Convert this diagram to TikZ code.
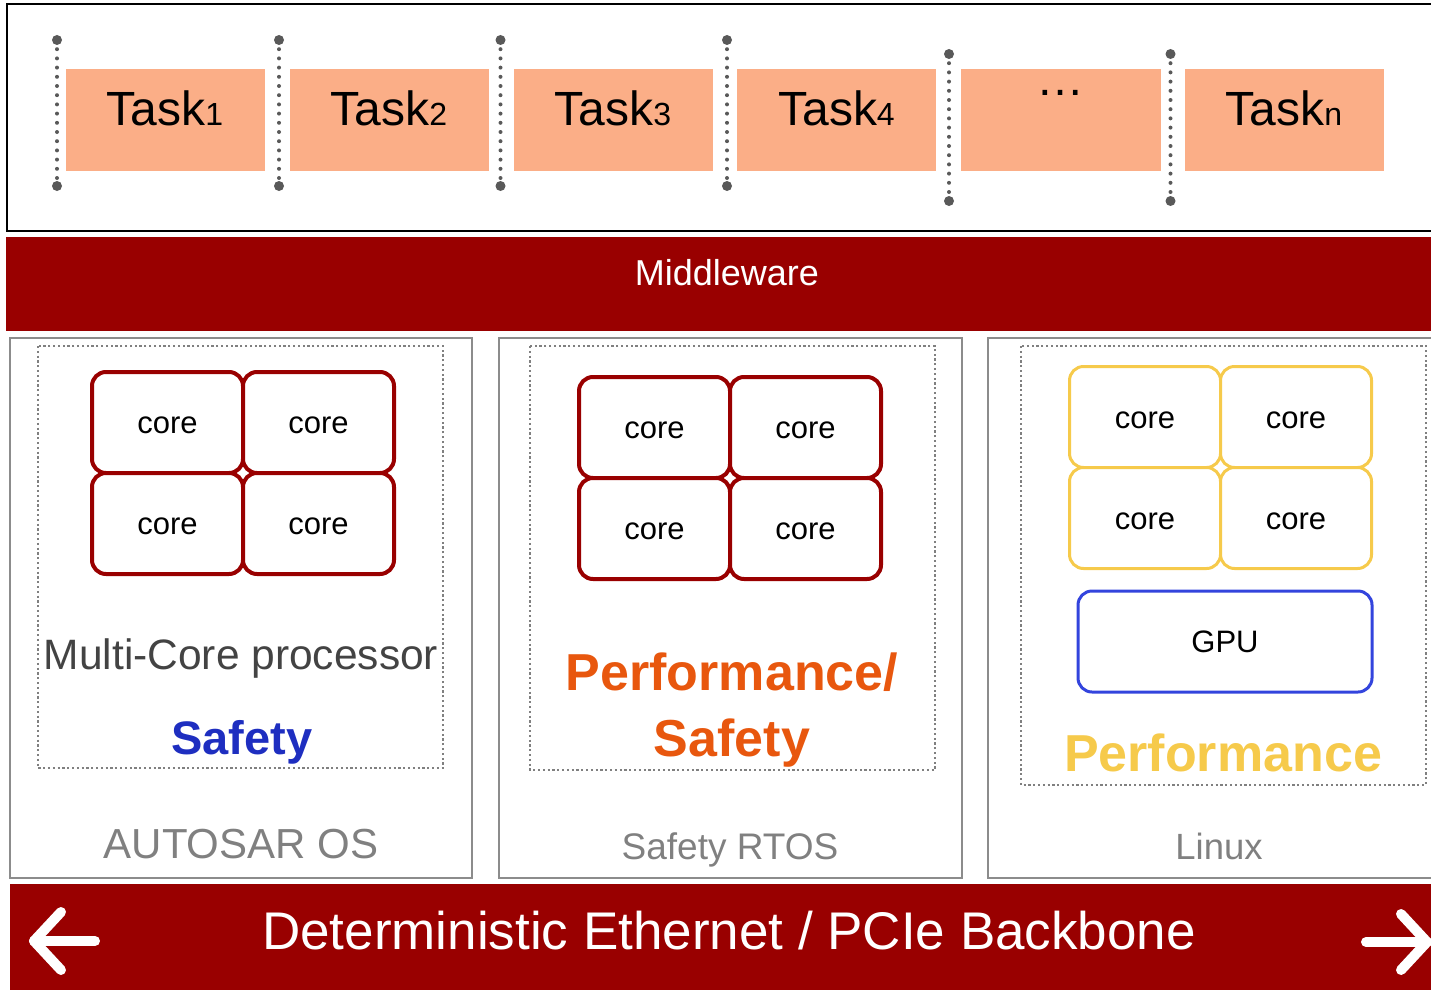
\documentclass[tikz,border=0pt]{standalone}
\usepackage{fontspec}
\setmainfont{Liberation Sans}
\usetikzlibrary{positioning}

\definecolor{taskfill}{RGB}{251,174,135}
\definecolor{bordo}{RGB}{153,0,0}
\definecolor{zholt}{RGB}{246,202,75}
\definecolor{gpublue}{RGB}{51,68,221}
\definecolor{safeblue}{RGB}{30,46,192}
\definecolor{oranzh}{RGB}{232,87,14}
\definecolor{sepgray}{RGB}{89,89,89}
\definecolor{panelgray}{RGB}{140,140,140}
\definecolor{textgray}{RGB}{67,67,67}
\definecolor{osgray}{RGB}{128,128,128}

\newcommand\fsz[1]{\fontsize{#1}{#1}\selectfont}

\tikzset{
  taskbox/.style={fill=taskfill, minimum width=199pt, minimum height=102pt, inner sep=0pt, outer sep=0pt},
  tasklabel/.style={anchor=base, inner sep=0pt, font=\fsz{48}},
  sepline/.style={sepgray, line width=4pt, line cap=round, dash pattern=on 0pt off 9.2pt},
  corecell/.style={draw, fill=white, rounded corners=14pt, minimum width=151pt, minimum height=101pt,
    inner sep=0pt, outer sep=0pt, text height=22pt, text depth=0pt, font=\fsz{31}},
  redcore/.style={corecell, draw=bordo, line width=4pt},
  yelcore/.style={corecell, draw=zholt, line width=3pt},
  panel/.style={draw=panelgray, line width=2pt},
  inner/.style={draw=osgray, line width=2pt, dash pattern=on 2.2pt off 2.6pt},
  caption/.style={anchor=base, inner sep=0pt},
  whitearrow/.style={white, line width=10pt, line cap=round, line join=round}
}

\begin{document}
\begin{tikzpicture}[x=1pt, y=-1pt]
        \useasboundingbox (0,0) rectangle (1431,990);
        \clip (0,0) rectangle (1431,990);

        % задачи
        \draw[line width=2pt] (7,4) rectangle (1450,231);
        \node[taskbox] (t1) at (165,119.5) {};
        \node[taskbox] (t2) at (389,119.5) {};
        \node[taskbox] (t3) at (613,119.5) {};
        \node[taskbox] (t4) at (836.5,119.5) {};
        \node[taskbox, minimum width=200pt] (t5) at (1061,119.5) {};
        \node[taskbox] (t6) at (1284.5,119.5) {};
        \node[tasklabel] (l1) at (165,125) {Task{\fsz{32}1}};
        \node[tasklabel] (l2) at (389,125) {Task{\fsz{32}2}};
        \node[tasklabel] (l3) at (613,125) {Task{\fsz{32}3}};
        \node[tasklabel] (l4) at (836.5,125) {Task{\fsz{32}4}};
        \node[tasklabel] (l5) at (1060,95) {…};
        \node[tasklabel] (l6) at (1284,125) {Task{\fsz{32}n}};

        % разделители
        \draw[sepline] (57,40) -- (57,186);
        \draw[sepline] (279,40) -- (279,186);
        \draw[sepline] (500.5,40) -- (500.5,186);
        \draw[sepline] (727,40) -- (727,186);
        \draw[sepline] (949,54) -- (949,201);
        \draw[sepline] (1170.5,54) -- (1170.5,201);
        \fill[sepgray] (57,40) circle (5pt) (57,186) circle (5pt);
        \fill[sepgray] (279,40) circle (5pt) (279,186) circle (5pt);
        \fill[sepgray] (500.5,40) circle (5pt) (500.5,186) circle (5pt);
        \fill[sepgray] (727,40) circle (5pt) (727,186) circle (5pt);
        \fill[sepgray] (949,54) circle (5pt) (949,201) circle (5pt);
        \fill[sepgray] (1170.5,54) circle (5pt) (1170.5,201) circle (5pt);

        % middleware
        \fill[bordo] (6,237) rectangle (1431,331);
        \node[caption, white, font=\fsz{36}] (mw) at (727,285) {Middleware};

        % первый блок
        \draw[panel] (10,338) rectangle (472,878);
        \draw[inner] (38,346) rectangle (443,768);
        \node[redcore] (a11) at (167.5,422.5) {core};
        \node[redcore, right=0pt of a11] (a12) {core};
        \node[redcore, below=0pt of a11] (a21) {core};
        \node[redcore, right=0pt of a21] (a22) {core};
        \node[caption, textgray, font=\fsz{42.5}] (mcp) at (241,669) {Multi-Core processor};
        \node[caption, safeblue, font=\bfseries\fsz{47}] (sf) at (242,754) {Safety};
        \node[caption, osgray, font=\fsz{42}] (aos) at (241,858) {AUTOSAR OS};

        % второй блок
        \draw[panel] (499,338) rectangle (962,878);
        \draw[inner] (530,346) rectangle (935,770);
        \node[redcore] (b11) at (654.5,427.5) {core};
        \node[redcore, right=0pt of b11] (b12) {core};
        \node[redcore, below=0pt of b11] (b21) {core};
        \node[redcore, right=0pt of b21] (b22) {core};
        \node[caption, oranzh, font=\bfseries\fsz{52}] (ps1) at (732,690) {Performance/};
        \node[caption, oranzh, font=\bfseries\fsz{52}] (ps2) at (732,756) {Safety};
        \node[caption, osgray, font=\fsz{37}] (rtos) at (730,859) {Safety RTOS};

        % третий блок
        \draw[panel] (988,338) rectangle (1450,878);
        \draw[inner] (1021,346) rectangle (1426,785);
        \node[yelcore] (c11) at (1145,417) {core};
        \node[yelcore, right=0pt of c11] (c12) {core};
        \node[yelcore, below=0pt of c11] (c21) {core};
        \node[yelcore, right=0pt of c21] (c22) {core};
        \node[corecell, draw=gpublue, line width=3pt, minimum width=294pt] (gpu) at (1225,641.5) {GPU};
        \node[caption, zholt, font=\bfseries\fsz{52}] (perf) at (1223,771) {Performance};
        \node[caption, osgray, font=\fsz{36.5}] (lin) at (1219,859) {Linux};

        % шина
        \fill[bordo] (10,884) rectangle (1431,990);
        \node[caption, white, font=\fsz{53}] (bus) at (729,949) {Deterministic Ethernet / PCIe Backbone};
        \draw[whitearrow] (61,912) -- (34,941) -- (61,970);
        \draw[whitearrow] (34,941) -- (95,941);
        \draw[whitearrow] (1401,914) -- (1427,942) -- (1401,970);
        \draw[whitearrow] (1366,942) -- (1427,942);
    \end{tikzpicture}
\end{document}
